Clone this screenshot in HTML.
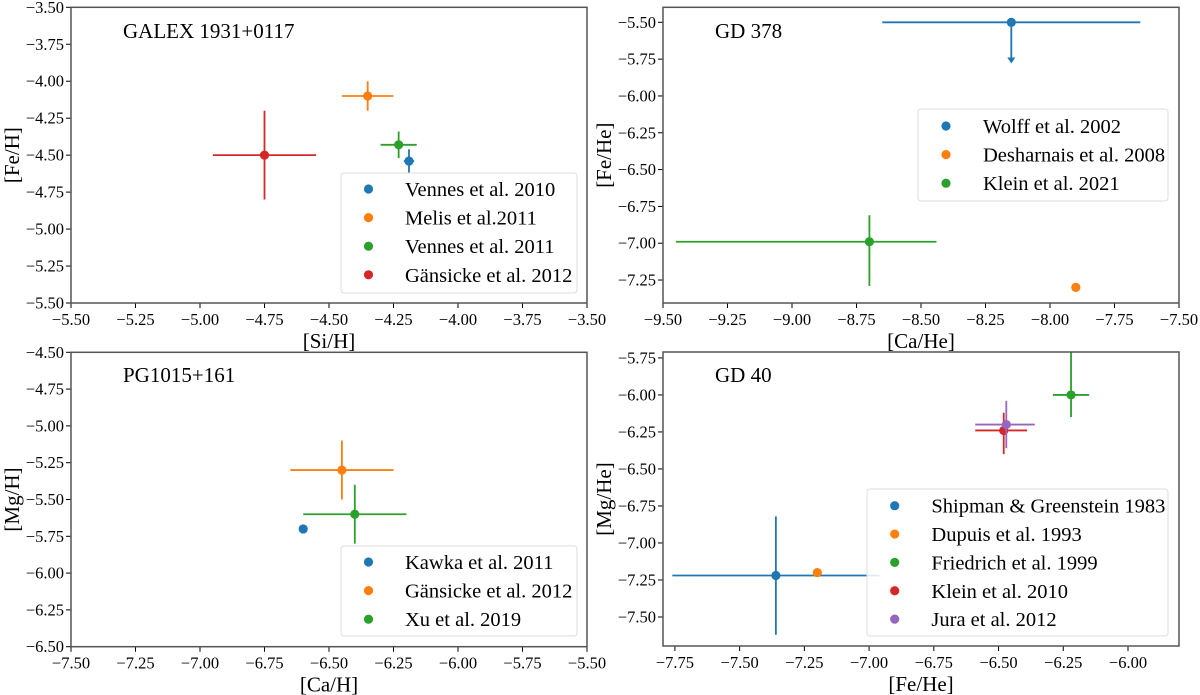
<!DOCTYPE html>
<html><head><meta charset="utf-8">
<style>
html,body{margin:0;padding:0;background:#fff;}
svg{display:block;font-family:"Liberation Serif",serif;}
svg text{font-family:"Liberation Serif",serif;}
</style></head>
<body>
<svg id="fig" width="1200" height="695" viewBox="0 0 1200 695" xmlns="http://www.w3.org/2000/svg"></svg>
<script>
// ---- Panel 1: GALEX 1931+0117 ----
const p1Labels = ["Vennes et al. 2010","Melis et al.2011","Vennes et al. 2011","Gänsicke et al. 2012"];
const p1X = [-4.19,-4.35,-4.23,-4.75];
const p1Y = [-4.54,-4.10,-4.43,-4.50];
const p1XErrLo = [0.02,0.10,0.07,0.20];
const p1XErrHi = [0.02,0.10,0.07,0.20];
const p1YErrLo = [0.08,0.10,0.09,0.30];
const p1YErrHi = [0.08,0.10,0.09,0.30];
const p1XTicks = [-5.50,-5.25,-5.00,-4.75,-4.50,-4.25,-4.00,-3.75,-3.50];
const p1YTicks = [-3.50,-3.75,-4.00,-4.25,-4.50,-4.75,-5.00,-5.25,-5.50];
// ---- Panel 2: GD 378 ----
const p2Labels = ["Wolff et al. 2002","Desharnais et al. 2008","Klein et al. 2021"];
const p2X = [-8.15,-7.90,-8.70];
const p2Y = [-5.50,-7.30,-6.99];
const p2XErrLo = [0.50,0,0.75];
const p2XErrHi = [0.50,0,0.26];
const p2YErrLo = [0,0,0.30];
const p2YErrHi = [0,0,0.18];
const p2UpperLimit = [0.28,0,0];
const p2XTicks = [-9.50,-9.25,-9.00,-8.75,-8.50,-8.25,-8.00,-7.75,-7.50];
const p2YTicks = [-5.50,-5.75,-6.00,-6.25,-6.50,-6.75,-7.00,-7.25];
// ---- Panel 3: PG1015+161 ----
const p3Labels = ["Kawka et al. 2011","Gänsicke et al. 2012","Xu et al. 2019"];
const p3X = [-6.60,-6.45,-6.40];
const p3Y = [-5.70,-5.30,-5.60];
const p3XErrLo = [0,0.20,0.20];
const p3XErrHi = [0,0.20,0.20];
const p3YErrLo = [0,0.20,0.20];
const p3YErrHi = [0,0.20,0.20];
const p3XTicks = [-7.50,-7.25,-7.00,-6.75,-6.50,-6.25,-6.00,-5.75,-5.50];
const p3YTicks = [-4.50,-4.75,-5.00,-5.25,-5.50,-5.75,-6.00,-6.25,-6.50];
// ---- Panel 4: GD 40 ----
const p4Labels = ["Shipman & Greenstein 1983","Dupuis et al. 1993","Friedrich et al. 1999","Klein et al. 2010","Jura et al. 2012"];
const p4X = [-7.36,-7.20,-6.22,-6.48,-6.47];
const p4Y = [-7.22,-7.20,-6.00,-6.24,-6.20];
const p4XErrLo = [0.40,0,0.07,0.11,0.12];
const p4XErrHi = [0.40,0,0.07,0.09,0.11];
const p4YErrLo = [0.40,0,0.15,0.16,0.16];
const p4YErrHi = [0.40,0,0.35,0.12,0.16];
const p4XTicks = [-7.75,-7.50,-7.25,-7.00,-6.75,-6.50,-6.25,-6.00];
const p4YTicks = [-5.75,-6.00,-6.25,-6.50,-6.75,-7.00,-7.25,-7.50];

const COLORS = ["#1f77b4","#ff7f0e","#2ca02c","#d62728","#9467bd"];
const FONT = "'Liberation Serif', serif";
const NS = "http://www.w3.org/2000/svg";
const svg = document.getElementById("fig");
function mk(tag, attrs, parent){
  const e = document.createElementNS(NS, tag);
  for (const k in attrs) e.setAttribute(k, attrs[k]);
  if (tag === "text") e.setAttribute("font-family", FONT);
  (parent||svg).appendChild(e);
  return e;
}
function fmt(v){ return (v<0?"\u2212":"")+Math.abs(v).toFixed(2); }

function panel(cfg){
  const g = mk("g",{});
  
  
  const L=cfg.box[0], R=cfg.box[1], T=cfg.box[2], B=cfg.box[3];
  const sx = v => L + (v-cfg.xr[0])/(cfg.xr[1]-cfg.xr[0])*(R-L);
  const sy = v => T + (v-cfg.yr[0])/(cfg.yr[1]-cfg.yr[0])*(B-T);
  const clipId = cfg.name+"-clip";
  const cp = mk("clipPath",{id:clipId},g);
  mk("rect",{x:L,y:T,width:R-L,height:B-T},cp);
  cfg.xt.forEach(v=>{
    const x=sx(v);
    const t = mk("line",{x1:x,x2:x,y1:B,y2:B+5,stroke:"#000","stroke-width":1},g);
    
    
    const tl = mk("text",{x:x,y:B+22,"text-anchor":"middle","font-size":16.5,fill:"#000"},g);
    tl.textContent = fmt(v);
    
    
  });
  cfg.yt.forEach(v=>{
    const y=sy(v);
    const t = mk("line",{x1:L-5,x2:L,y1:y,y2:y,stroke:"#000","stroke-width":1},g);
    
    
    const tl = mk("text",{x:L-7,y:y+5.5,"text-anchor":"end","font-size":16.5,fill:"#000"},g);
    tl.textContent = fmt(v);
    
    
  });
  const dg = mk("g",{"clip-path":"url(#"+clipId+")"},g);
  for (let i=0;i<cfg.x.length;i++){
    const c = COLORS[i];
    const x=sx(cfg.x[i]), y=sy(cfg.y[i]);
    const sg = mk("g",{},dg);
    
    
    if (cfg.xel[i]||cfg.xeh[i]) mk("line",{x1:sx(cfg.x[i]-cfg.xel[i]),x2:sx(cfg.x[i]+cfg.xeh[i]),y1:y,y2:y,stroke:c,"stroke-width":1.8},sg);
    if (cfg.yel[i]||cfg.yeh[i]) mk("line",{x1:x,x2:x,y1:sy(cfg.y[i]-cfg.yel[i]),y2:sy(cfg.y[i]+cfg.yeh[i]),stroke:c,"stroke-width":1.8},sg);
    if (cfg.ul && cfg.ul[i]){
      const ye = sy(cfg.y[i]-cfg.ul[i]);
      mk("line",{x1:x,x2:x,y1:y,y2:ye-4,stroke:c,"stroke-width":1.8},sg);
      mk("polygon",{points:(x-4)+","+(ye-6)+" "+(x+4)+","+(ye-6)+" "+x+","+ye,fill:c},sg);
    }
    mk("circle",{cx:x,cy:y,r:4.6,fill:c},sg);
  }
  const fr = mk("rect",{x:L,y:T,width:R-L,height:B-T,fill:"none",stroke:"#555","stroke-width":1.5},g);
  
  
  const ti = mk("text",{x:cfg.title[1],y:cfg.title[2],"font-size":21,fill:"#000"},g);
  ti.textContent = cfg.title[0];
  
  
  const xl = mk("text",{x:(L+R)/2,y:B+45,"text-anchor":"middle","font-size":21,fill:"#000"},g);
  xl.textContent = cfg.xlabel;
  
  
  const yx = L-52, yy=(T+B)/2;
  const yl = mk("text",{x:yx,y:yy,"text-anchor":"middle","font-size":21,fill:"#000",transform:"rotate(-90 "+yx+" "+yy+")"},g);
  yl.textContent = cfg.ylabel;
  
  
  const lg = mk("g",{},g);
  
  
  const lb = cfg.leg;
  mk("rect",{x:lb.x,y:lb.y,width:lb.w,height:lb.h,rx:3,fill:"#fff","fill-opacity":0.85,stroke:"#ddd","stroke-width":1},lg);
  cfg.labels.forEach((s,i)=>{
    const ey = lb.y0 + i*lb.dy;
    const eg = mk("g",{},lg);
    
    
    mk("circle",{cx:lb.mx,cy:ey,r:4.6,fill:COLORS[i]},eg);
    const tt = mk("text",{x:lb.tx,y:ey+7,"font-size":20.5,fill:"#000"},eg);
    tt.textContent = s;
  });
}

panel({name:"panel-galex",box:[71,587,7.3,303],xr:[-5.5,-3.5],yr:[-3.5,-5.5],
  x:p1X,y:p1Y,xel:p1XErrLo,xeh:p1XErrHi,yel:p1YErrLo,yeh:p1YErrHi,xt:p1XTicks,yt:p1YTicks,
  title:["GALEX 1931+0117",123,38],xlabel:"[Si/H]",ylabel:"[Fe/H]",labels:p1Labels,
  leg:{x:341,y:173,w:236,h:120,y0:189,dy:28.6,mx:368.5,tx:405}});
panel({name:"panel-gd378",box:[663,1179,7.3,303],xr:[-9.5,-7.5],yr:[-5.398,-7.406],
  x:p2X,y:p2Y,xel:p2XErrLo,xeh:p2XErrHi,yel:p2YErrLo,yeh:p2YErrHi,ul:p2UpperLimit,xt:p2XTicks,yt:p2YTicks,
  title:["GD 378",715,38],xlabel:"[Ca/He]",ylabel:"[Fe/He]",labels:p2Labels,
  leg:{x:918,y:109,w:250,h:92,y0:126,dy:28.6,mx:946,tx:983}});
panel({name:"panel-pg1015",box:[71,587,352.3,646.7],xr:[-7.5,-5.5],yr:[-4.5,-6.5],
  x:p3X,y:p3Y,xel:p3XErrLo,xeh:p3XErrHi,yel:p3YErrLo,yeh:p3YErrHi,xt:p3XTicks,yt:p3YTicks,
  title:["PG1015+161",123,382],xlabel:"[Ca/H]",ylabel:"[Mg/H]",labels:p3Labels,
  leg:{x:341,y:546,w:236,h:90,y0:562,dy:28.6,mx:368.5,tx:405}});
panel({name:"panel-gd40",box:[663,1179,352,646],xr:[-7.796,-5.803],yr:[-5.71,-7.696],
  x:p4X,y:p4Y,xel:p4XErrLo,xeh:p4XErrHi,yel:p4YErrLo,yeh:p4YErrHi,xt:p4XTicks,yt:p4YTicks,
  title:["GD 40",715,382],xlabel:"[Fe/He]",ylabel:"[Mg/He]",labels:p4Labels,
  leg:{x:867,y:489,w:301,h:147,y0:505.7,dy:28.35,mx:894.7,tx:931.4}});
</script>
</body></html>
